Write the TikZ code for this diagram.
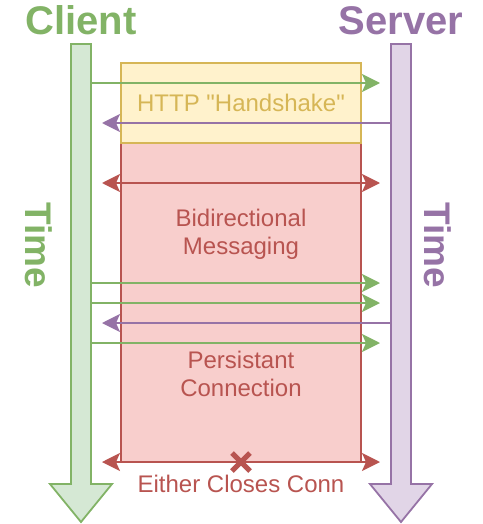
\documentclass[tikz,border=0pt]{standalone}
\usepackage{fontspec}
\setmainfont{Liberation Sans}[Ligatures=TeXOff]
\usetikzlibrary{arrows.meta, positioning}

\definecolor{cligreen}{HTML}{82B366}
\definecolor{clifill}{HTML}{D5E8D4}
\definecolor{srvpurple}{HTML}{9673A6}
\definecolor{srvfill}{HTML}{E1D5E7}
\definecolor{hsline}{HTML}{D6B656}
\definecolor{hsfill}{HTML}{FFF2CC}
\definecolor{connred}{HTML}{B85450}
\definecolor{connfill}{HTML}{F8CECC}

\begin{document}
\begin{tikzpicture}[
        x=1pt, y=-1pt, line width=1.8pt,
        node distance=8pt,
        lane/.style={rectangle, minimum width=20pt, minimum height=440pt, inner sep=0pt, outer sep=0pt},
        phasebox/.style={rectangle, minimum width=240pt, inner sep=0pt, outer sep=0pt},
        title/.style={inner sep=0pt, font=\fontsize{40}{46}\selectfont\bfseries},
        timetext/.style={inner sep=0pt, rotate=-90, font=\fontsize{37}{42}\selectfont\bfseries},
        phasetext/.style={align=center, inner sep=0pt, font=\fontsize{24}{28}\selectfont},
        msg/.style={-{Stealth[length=18pt, width=18pt, inset=4pt]}},
        dmsg/.style={{Stealth[length=18pt, width=18pt, inset=4pt]}-{Stealth[length=18pt, width=18pt, inset=4pt]}}
    ]
    \useasboundingbox (0,0) rectangle (482,524);

    % The Time Lanes
    \node (cshaft) [lane] at (81,264) {};
    \node (sshaft) [lane] at (401,264) {};
    \draw [cligreen, fill=clifill] (cshaft.north west) -- (cshaft.north east) -- (cshaft.south east) -- ++(21,0) -- ++(-31,38) -- ++(-31,-38) -- (cshaft.south west) -- cycle;
    \draw [srvpurple, fill=srvfill] (sshaft.north west) -- (sshaft.north east) -- (sshaft.south east) -- ++(21,0) -- ++(-31,38) -- ++(-31,-38) -- (sshaft.south west) -- cycle;

    \node (client) [title, text=cligreen, above=of cshaft] {Client};
    \node (server) [title, text=srvpurple, above=of sshaft] {Server};
    \node (ctime) [timetext, text=cligreen] at (39,245) {Time};
    \node (stime) [timetext, text=srvpurple] at (438,245) {Time};

    % The Phase Boxes
    \node (hs) [phasebox, draw=hsline, fill=hsfill, minimum height=80pt] at (241,103) {};
    \node (conn) [phasebox, draw=connred, fill=connfill, minimum height=319pt, below=0pt of hs] {};
    \draw [hsline, fill=hsfill] (hs.south west) rectangle (hs.north east);
    \node (hstext) [phasetext, text=hsline] at (hs.center) {HTTP "Handshake"};
    \node (bidi) [phasetext, text=connred] at (241,234) {Bidirectional\\Messaging};
    \node (persist) [phasetext, text=connred] at (241,374) {Persistant\\Connection};
    \node (close) [phasetext, text=connred] at (241,484) {Either Closes Conn};

    % The Messages
    \coordinate (cend) at ([xshift=11pt]cshaft.east);
    \coordinate (send) at ([xshift=-11pt]sshaft.west);
    \foreach \y in {83,283,303,343}
        \draw [msg, cligreen] (cshaft.east |- 0,\y) -- (send |- 0,\y);
    \foreach \y in {123,323}
        \draw [msg, srvpurple] (sshaft.west |- 0,\y) -- (cend |- 0,\y);
    \draw [dmsg, connred] (cend |- 0,183) -- (send |- 0,183);
    \draw [dmsg, connred] (cend |- conn.south) -- (send |- conn.south);

    % The Close Mark
    \draw [connred, line width=5pt] ([shift={(-9,-9)}]conn.south) -- ([shift={(9,9)}]conn.south);
    \draw [connred, line width=5pt] ([shift={(-9,9)}]conn.south) -- ([shift={(9,-9)}]conn.south);

\end{tikzpicture}
\end{document}
